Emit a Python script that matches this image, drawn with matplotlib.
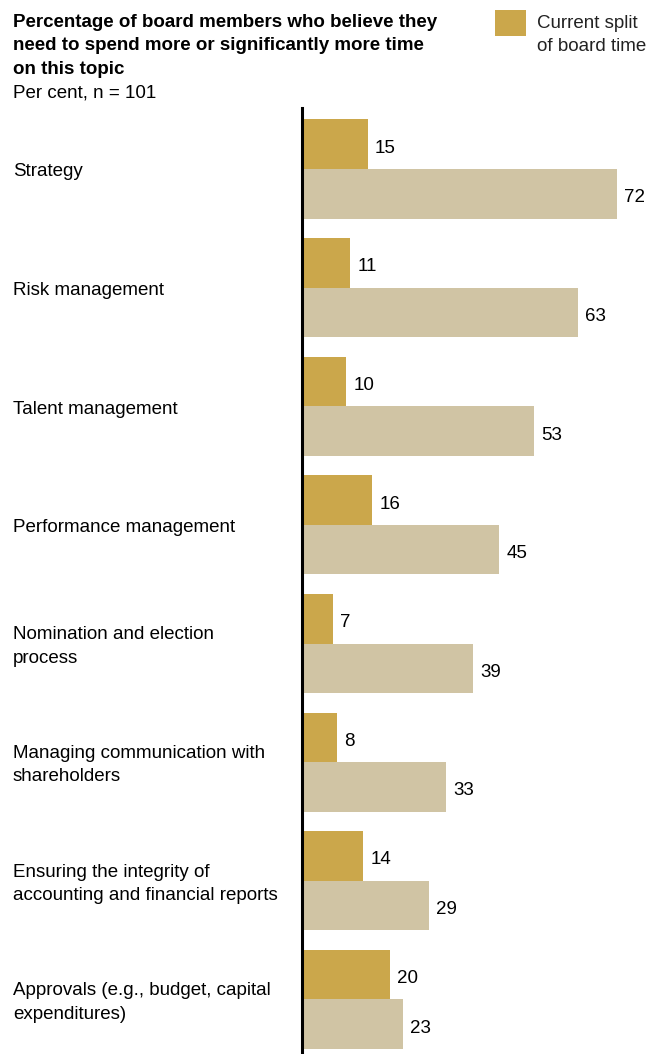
import matplotlib
matplotlib.use("Agg")
import matplotlib.pyplot as plt
from matplotlib.transforms import blended_transform_factory
from matplotlib.patches import Rectangle

plt.rcParams["font.family"] = ["Liberation Sans", "DejaVu Sans"]

categories = [
    "Strategy",
    "Risk management",
    "Talent management",
    "Performance management",
    "Nomination and election\nprocess",
    "Managing communication with\nshareholders",
    "Ensuring the integrity of\naccounting and financial reports",
    "Approvals (e.g., budget, capital\nexpenditures)",
]
current_split = [15, 11, 10, 16, 7, 8, 14, 20]
need_more_time = [72, 63, 53, 45, 39, 33, 29, 23]

title = ("Percentage of board members who believe they\n"
         "need to spend more or significantly more time\n"
         "on this topic")
subtitle = "Per cent, n = 101"
legend_label = "Current split\nof board time"

GOLD = "#CBA74B"
BEIGE = "#D0C4A4"
FS = 13.5
LS = 1.49

W, H = 662, 1054
fig = plt.figure(figsize=(W / 100, H / 100), dpi=100)

ax_left, ax_top = 302, 108
ax = fig.add_axes([ax_left / W, 0, 1 - ax_left / W, (H - ax_top) / H])

bar_h = 0.418
ypos = list(range(len(categories)))
ax.barh([y - bar_h / 2 for y in ypos], current_split, height=bar_h,
        color=GOLD, linewidth=0)
ax.barh([y + bar_h / 2 for y in ypos], need_more_time, height=bar_h,
        color=BEIGE, linewidth=0)

ax.set_xlim(0, (W - ax_left) / 4.375)
ax.set_ylim(7.46, -0.514)

px = 1 / 118.6  # one pixel in data units along y
for y, v in zip(ypos, current_split):
    ax.text(v + 1.7, y - bar_h / 2 + 4 * px, str(v), va="center", ha="left",
            fontsize=FS, color="black")
for y, v in zip(ypos, need_more_time):
    ax.text(v + 1.7, y + bar_h / 2 + 4 * px, str(v), va="center", ha="left",
            fontsize=FS, color="black")

trans = blended_transform_factory(fig.transFigure, ax.transData)
for y, c in zip(ypos, categories):
    ax.text(13 / W, y + 3 * px, c, transform=trans, va="center", ha="left",
            fontsize=FS, color="black", linespacing=LS, clip_on=False)

for s in ["top", "right", "bottom"]:
    ax.spines[s].set_visible(False)
ax.spines["left"].set_linewidth(2.2)
ax.spines["left"].set_color("black")
ax.set_xticks([])
ax.set_yticks([])

fig.text(13 / W, 1 - 14 / H, title, fontsize=FS, fontweight="bold",
         va="top", ha="left", linespacing=LS)
fig.text(13 / W, 1 - 84 / H, subtitle, fontsize=FS, va="top", ha="left")

fig.patches.append(Rectangle((495 / W, 1 - 36 / H), 31 / W, 26 / H,
                             transform=fig.transFigure, color=GOLD,
                             linewidth=0))
fig.text(537 / W, 1 - 15 / H, legend_label, fontsize=FS, va="top", ha="left",
         color="#222222", linespacing=LS)

fig.savefig("out.png", dpi=100)
